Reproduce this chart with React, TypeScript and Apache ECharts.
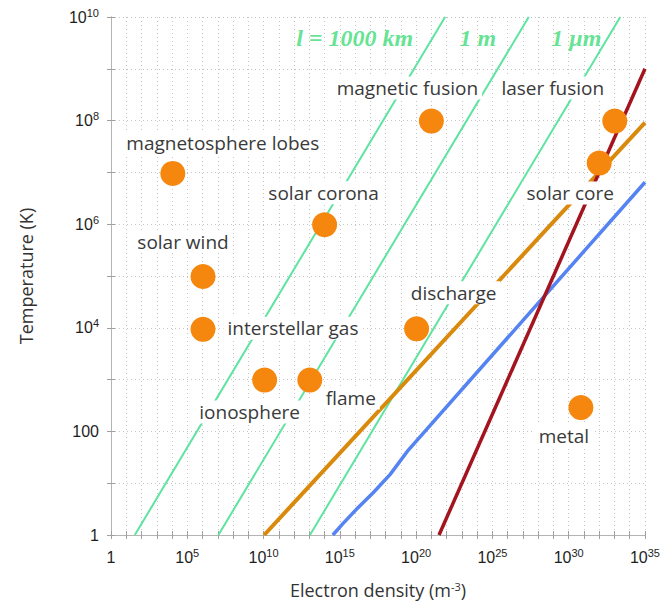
import React, { useEffect, useRef } from 'react';
import * as echarts from 'echarts';

// Plasma regimes: exponents of electron density (m^-3) and temperature (K)
const regimeNames = [
  'magnetosphere lobes', 'solar wind', 'interstellar gas', 'ionosphere', 'flame',
  'solar corona', 'magnetic fusion', 'discharge', 'laser fusion', 'solar core', 'metal',
];
const regimeDensityExp = [4.05, 6.03, 6.03, 10.07, 13.03, 14.0, 21.0, 20.03, 33.02, 32.0, 30.8];
const regimeTempExp = [6.98, 4.99, 3.97, 2.99, 2.99, 5.99, 7.99, 3.98, 7.99, 7.18, 2.46];

// Mean free path lines (green)
const mfpNames = ['l = 1000 km', '1 m', '1 μm'];
const mfpDensityAtBottom = [1.56, 7.04, 13.04];
const mfpDensityAtTop = [21.9, 27.38, 33.38];
const mfpTempRange = [0, 10];
const mfpLabelDensity = [15.97, 24.05, 30.5];
const mfpLabelTemp = [9.59, 9.59, 9.59];

// Orange line
const orangeDensity = [10.04, 35];
const orangeTemp = [0, 7.96];
// Blue line
const blueDensity = [14.54, 15.2, 16.1, 17.2, 18.3, 19.49, 35.0];
const blueTemp = [0, 0.22, 0.5, 0.82, 1.17, 1.64, 6.81];
// Red line
const redDensity = [21.5, 35];
const redTemp = [0, 9.0];

// Axis tick labels
const xLabelExps = [0, 5, 10, 15, 20, 25, 30, 35];
const yLabelExps = [0, 2, 4, 6, 8, 10];

// Label placement relative to each dot (pixels)
const labelOffsets = [
  [50, -30], [-20, -35], [90, -1], [-15, 32], [41, 18], [-1, -32],
  [-24, -33], [37, -36], [-62, -33], [-29, 30], [-17, 28],
];

const zip = (xs: number[], ys: number[]) => xs.map((x, i) => [x, ys[i]]);

const tickRich = {
  b: { fontSize: 16, lineHeight: 20, fontFamily: 'Liberation Sans', color: '#1e1e1e' },
  s: { fontSize: 11, lineHeight: 10, verticalAlign: 'top', fontFamily: 'Liberation Sans', color: '#1e1e1e' },
};

function powLabel(v: number, list: number[]) {
  if (!list.includes(v)) return '';
  if (v === 0) return '{b|1}';
  if (v === 2) return '{b|100}';
  return `{b|10}{s|${v}}`;
}

export default function App() {
  const ref = useRef<HTMLDivElement>(null);
  useEffect(() => {
    document.body.style.margin = '0';
    const chart = echarts.init(ref.current!, undefined, { renderer: 'svg' });
    const frame = { show: true, lineStyle: { color: '#b4b4b4', width: 1 } };
    const ticks = { show: true, inside: true, length: 4, lineStyle: { color: '#a0a0a0' } };
    const split = { show: true, lineStyle: { type: [1, 3], color: '#c4c4c4', width: 1 } };
    const green = '#5ee3a0';

    const series: any[] = [];
    mfpNames.forEach((n, i) => {
      series.push({
        type: 'line',
        name: n,
        data: [
          [mfpDensityAtBottom[i], mfpTempRange[0]],
          [mfpDensityAtTop[i], mfpTempRange[1]],
        ],
        symbol: 'none',
        lineStyle: { color: green, width: 2 },
        z: 2,
      });
    });
    series.push({
      type: 'line', data: zip(orangeDensity, orangeTemp), symbol: 'none',
      lineStyle: { color: '#d98a0c', width: 4 }, z: 3,
    });
    series.push({
      type: 'line', data: zip(blueDensity, blueTemp), symbol: 'none',
      lineStyle: { color: '#5583f2', width: 3.5 }, z: 3,
    });
    series.push({
      type: 'line', data: zip(redDensity, redTemp), symbol: 'none',
      lineStyle: { color: '#a3141f', width: 3.5 }, z: 3,
    });
    series.push({
      type: 'scatter',
      symbolSize: 25,
      itemStyle: { color: '#f5870f', opacity: 1 },
      z: 10,
      data: regimeNames.map((n, i) => ({
        name: n,
        value: [regimeDensityExp[i], regimeTempExp[i]],
        label: { offset: labelOffsets[i] },
      })),
      label: {
        show: true,
        position: 'inside',
        formatter: '{b}',
        fontFamily: 'Open Sans',
        fontSize: 19,
        color: '#3a3a3a',
        backgroundColor: '#ffffff',
        padding: [2, 4],
      },
    });
    series.push({
      type: 'scatter',
      symbolSize: 0,
      z: 11,
      data: mfpNames.map((n, i) => ({ name: n, value: [mfpLabelDensity[i], mfpLabelTemp[i]] })),
      label: {
        show: true,
        position: 'inside',
        formatter: '{b}',
        fontFamily: 'Liberation Serif',
        fontStyle: 'italic',
        fontWeight: 'bold',
        fontSize: 24,
        color: '#3ddc78',
      },
    });

    chart.setOption({
      animation: false,
      grid: { left: 111, right: 15, top: 17, bottom: 73, containLabel: false },
      xAxis: [
        {
          type: 'value', min: 0, max: 35, interval: 1, position: 'bottom',
          axisLine: frame, axisTick: ticks, splitLine: split,
          axisLabel: {
            formatter: (v: number) => powLabel(v, xLabelExps),
            rich: tickRich, margin: 12, showMinLabel: true, showMaxLabel: true,
          },
          name: 'Electron density (m{s|-3})',
          nameLocation: 'middle',
          nameGap: 46,
          nameTextStyle: {
            fontFamily: 'Open Sans', fontSize: 18, color: '#333',
            rich: {
              s: { fontFamily: 'Open Sans', fontSize: 11, verticalAlign: 'top', lineHeight: 10, color: '#333' },
            },
          },
        },
        {
          type: 'value', min: 0, max: 35, interval: 1, position: 'top',
          axisLine: frame, axisTick: ticks, splitLine: { show: false }, axisLabel: { show: false },
        },
      ],
      yAxis: [
        {
          type: 'value', min: 0, max: 10, interval: 1, position: 'left',
          axisLine: frame, axisTick: ticks, splitLine: split,
          axisLabel: {
            formatter: (v: number) => powLabel(v, yLabelExps),
            rich: tickRich, margin: 12, showMinLabel: true, showMaxLabel: true,
          },
          name: 'Temperature (K)',
          nameLocation: 'middle',
          nameGap: 76,
          nameTextStyle: { fontFamily: 'Open Sans', fontSize: 18, color: '#333' },
        },
        {
          type: 'value', min: 0, max: 10, interval: 1, position: 'right',
          axisLine: frame, axisTick: ticks, splitLine: { show: false }, axisLabel: { show: false },
        },
      ],
      series,
    });
    return () => chart.dispose();
  }, []);
  return <div ref={ref} style={{ width: 663, height: 608 }} />;
}
